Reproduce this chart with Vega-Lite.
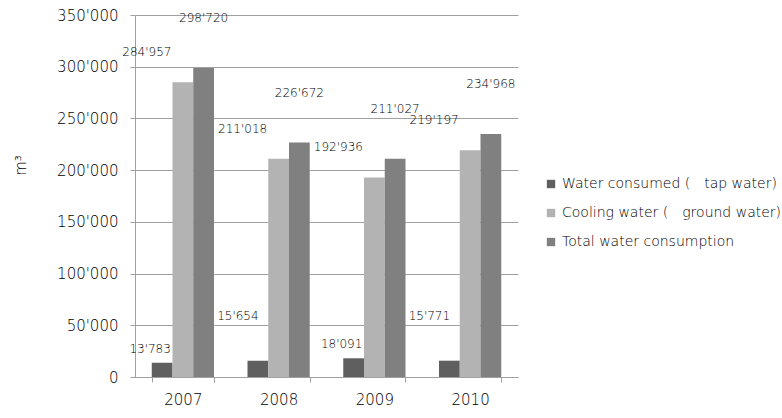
{
  "$schema": "https://vega.github.io/schema/vega-lite/v6.json",
  "width": 383,
  "height": 362,
  "autosize": {"type": "none"},
  "padding": {"left": 135, "top": 15, "right": 264, "bottom": 41},
  "background": "white",
  "config": {
    "locale": {"number": {"decimal": ".", "thousands": "'", "grouping": [3], "currency": ["", ""]}},
    "view": {"stroke": null},
    "font": "DejaVu Sans"
  },
  "data": {
    "values": [
      {"year": "2007", "series": "Water consumed (　tap water)", "value": 13783},
      {"year": "2007", "series": "Cooling water (　ground water)", "value": 284957},
      {"year": "2007", "series": "Total water consumption", "value": 298720},
      {"year": "2008", "series": "Water consumed (　tap water)", "value": 15654},
      {"year": "2008", "series": "Cooling water (　ground water)", "value": 211018},
      {"year": "2008", "series": "Total water consumption", "value": 226672},
      {"year": "2009", "series": "Water consumed (　tap water)", "value": 18091},
      {"year": "2009", "series": "Cooling water (　ground water)", "value": 192936},
      {"year": "2009", "series": "Total water consumption", "value": 211027},
      {"year": "2010", "series": "Water consumed (　tap water)", "value": 15771},
      {"year": "2010", "series": "Cooling water (　ground water)", "value": 219197},
      {"year": "2010", "series": "Total water consumption", "value": 234968}
    ]
  },
  "encoding": {
    "x": {
      "field": "year", "type": "nominal",
      "scale": {"paddingInner": 0.35, "paddingOuter": 0.175},
      "axis": {
        "title": null, "labelAngle": 0, "labelFontSize": 15, "labelFontWeight": 200, "labelColor": "#000000",
        "labelPadding": 10, "tickBand": "extent", "tickSize": 5,
        "tickColor": "#a0a0a0", "domainColor": "#a0a0a0"
      }
    },
    "xOffset": {
      "field": "series", "type": "nominal",
      "sort": ["Water consumed (　tap water)", "Cooling water (　ground water)", "Total water consumption"]
    },
    "y": {
      "field": "value", "type": "quantitative",
      "scale": {"domain": [0, 350000], "nice": false},
      "axis": {
        "title": "m³", "titleAngle": -90, "titleX": -115, "titleY": 150, "titleFontSize": 15,
        "titleFontWeight": 200, "titleColor": "#000000", "titleAlign": "center", "titleBaseline": "middle",
        "format": ",d", "values": [0, 50000, 100000, 150000, 200000, 250000, 300000, 350000],
        "labelOverlap": false, "labelFlush": false, "labelFontWeight": 200,
        "labelFontSize": 15, "labelColor": "#000000", "labelPadding": 12, "tickSize": 5,
        "tickColor": "#a0a0a0", "domainColor": "#a0a0a0", "gridColor": "#a0a0a0", "grid": true
      }
    }
  },
  "layer": [
    {
      "mark": {"type": "bar"},
      "encoding": {
        "color": {
          "field": "series", "type": "nominal",
          "sort": ["Water consumed (　tap water)", "Cooling water (　ground water)", "Total water consumption"],
          "scale": {"range": ["#5f5f5f", "#b3b3b3", "#808080"]},
          "legend": {
            "title": null, "orient": "none", "legendX": 409, "legendY": 162,
            "symbolType": "square", "symbolSize": 70, "symbolStrokeWidth": 0,
            "labelFontSize": 14, "labelFontWeight": 200, "labelLimit": 400, "labelColor": "#000000",
            "rowPadding": 15, "labelOffset": 4
          }
        }
      }
    },
    {
      "transform": [{"filter": "datum.series == 'Water consumed (　tap water)' && (datum.year == '2007' || datum.year == '2009')"}],
      "mark": {"type": "text", "dx": -12, "dy": -14, "fontSize": 12, "fontWeight": 200, "color": "#000000"},
      "encoding": {"text": {"field": "value", "type": "quantitative", "format": ",d"}}
    },
    {
      "transform": [{"filter": "datum.series == 'Water consumed (　tap water)' && (datum.year == '2008' || datum.year == '2010')"}],
      "mark": {"type": "text", "dx": -20, "dy": -45, "fontSize": 12, "fontWeight": 200, "color": "#000000"},
      "encoding": {"text": {"field": "value", "type": "quantitative", "format": ",d"}}
    },
    {
      "transform": [{"filter": "datum.series == 'Cooling water (　ground water)'"}],
      "mark": {"type": "text", "dx": -36, "dy": -30, "fontSize": 12, "fontWeight": 200, "color": "#000000"},
      "encoding": {"text": {"field": "value", "type": "quantitative", "format": ",d"}}
    },
    {
      "transform": [{"filter": "datum.series == 'Total water consumption'"}],
      "mark": {"type": "text", "dx": 0, "dy": -50, "fontSize": 12, "fontWeight": 200, "color": "#000000"},
      "encoding": {"text": {"field": "value", "type": "quantitative", "format": ",d"}}
    }
  ]
}
